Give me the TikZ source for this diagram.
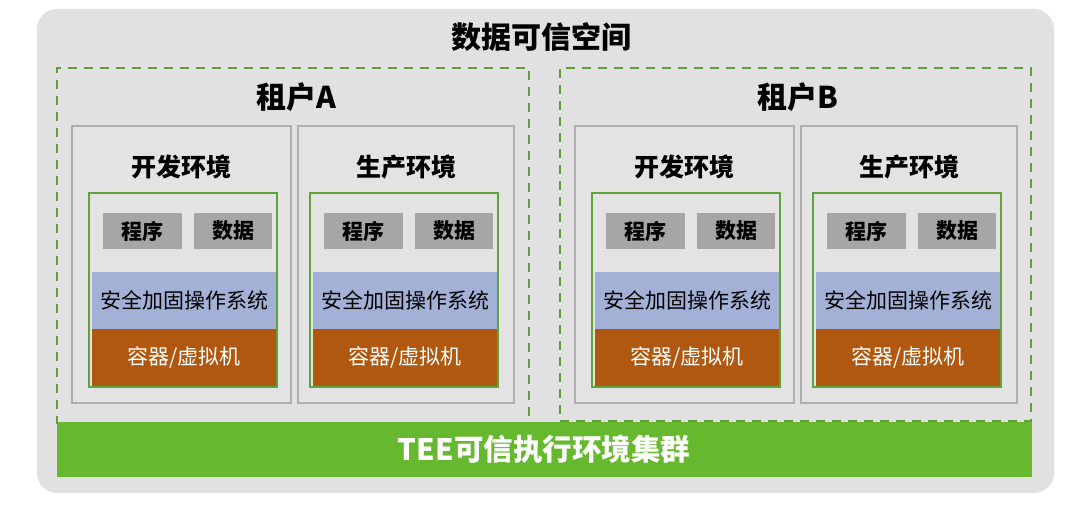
\documentclass[tikz,border=0pt]{standalone}
\usepackage{fontspec}
\usetikzlibrary{fit}
\newfontfamily\cjk{Noto Sans CJK SC}
\definecolor{bgout}{HTML}{E1E1E1}
\definecolor{dashgreen}{HTML}{5E9E3A}
\definecolor{envline}{HTML}{AEAEAE}
\definecolor{envfill}{HTML}{E3E3E3}
\definecolor{boxgreen}{HTML}{5FA33C}
\definecolor{cellgray}{HTML}{A6A6A6}
\definecolor{osblue}{HTML}{A3B1D6}
\definecolor{vmorange}{HTML}{B0580F}
\definecolor{teegreen}{HTML}{66B82E}
\tikzset{
  outerbox/.style={fill=bgout, draw=none, rounded corners=20pt, inner sep=0pt},
  tenantbox/.style={draw=dashgreen, line width=1.8pt, dash pattern=on 9pt off 7pt, inner sep=0pt},
  envbox/.style={draw=envline, line width=1.3pt, fill=envfill, inner sep=0pt},
  vmbox/.style={draw=boxgreen, line width=1.3pt, fill=envfill, inner sep=0pt},
  cellbox/.style={fill=cellgray, draw=none, inner sep=0pt, minimum height=36pt, font=\cjk\bfseries\fontsize{21}{23}\selectfont},
  osbox/.style={fill=osblue, draw=none, inner sep=0pt, minimum width=184pt, minimum height=57pt, font=\cjk\fontsize{21}{23}\selectfont},
  vmlayer/.style={fill=vmorange, draw=none, inner sep=0pt, minimum width=184pt, minimum height=57pt, text=white, font=\cjk\fontsize{21}{23}\selectfont},
  teeband/.style={fill=teegreen, draw=none, inner sep=0pt},
  titletext/.style={font=\cjk\bfseries\fontsize{30}{32}\selectfont},
  tenanttext/.style={font=\cjk\bfseries\fontsize{30}{32}\selectfont},
  envtext/.style={font=\cjk\bfseries\fontsize{25}{27}\selectfont},
  teetext/.style={font=\cjk\bfseries\fontsize{29.5}{31}\selectfont, text=white},
}
% #1 id, #2 env left, #3 env right, #4 green-box left, #5 title
\newcommand\envblk[5]{%
  \coordinate (#1-a) at (#2,126);
  \coordinate (#1-b) at (#3,403);
  \node[envbox, fit=(#1-a)(#1-b)] (#1) {};
  \node[envtext] (#1-t) at ({(#2+#3)/2},167) {#5};
  \coordinate (#1-ga) at (#4,193);
  \coordinate (#1-gb) at ({#4+188},387);
  \node[vmbox, fit=(#1-ga)(#1-gb)] (#1-g) {};
  \node[cellbox, minimum width=79pt] (#1-p) at ({#4+53.5},231) {程序};
  \node[cellbox, minimum width=78pt] (#1-d) at ({#4+144},231) {数据};
  \node[osbox] (#1-os) at ({#4+95},300.5) {安全加固操作系统};
  \node[vmlayer] (#1-vm) at ({#4+95},357.5) {容器/虚拟机};
}
\begin{document}
\begin{tikzpicture}[x=1pt,y=-1pt]
\useasboundingbox (0,0) rectangle (1080,510);
\fill[white] (0,0) rectangle (1080,510);
\coordinate (o-a) at (37,9);
\coordinate (o-b) at (1054,493);
\node[outerbox, fit=(o-a)(o-b)] (outer) {};
\node[titletext] (title) at (541,37) {数据可信空间};
% tenant A
\coordinate (ta-a) at (57,68);
\coordinate (ta-b) at (529,424);
\node[tenantbox, fit=(ta-a)(ta-b)] (tenantA) {};
\node[tenanttext] (tenantA-t) at (296,97) {租户A};
% tenant B
\coordinate (tb-a) at (560,68);
\coordinate (tb-b) at (1031,421);
\node[tenantbox, fit=(tb-a)(tb-b)] (tenantB) {};
\node[tenanttext] (tenantB-t) at (798,97) {租户B};
\envblk{adev}{72}{291}{89}{开发环境}
\envblk{aprod}{298}{514}{310}{生产环境}
\envblk{bdev}{575}{794}{592}{开发环境}
\envblk{bprod}{801}{1017}{813}{生产环境}
% TEE band
\coordinate (tee-a) at (57,422);
\coordinate (tee-b) at (1032,477);
\node[teeband, fit=(tee-a)(tee-b)] (tee) {};
\node[teetext] (tee-t) at (544,449) {TEE可信执行环境集群};
\end{tikzpicture}
\end{document}
